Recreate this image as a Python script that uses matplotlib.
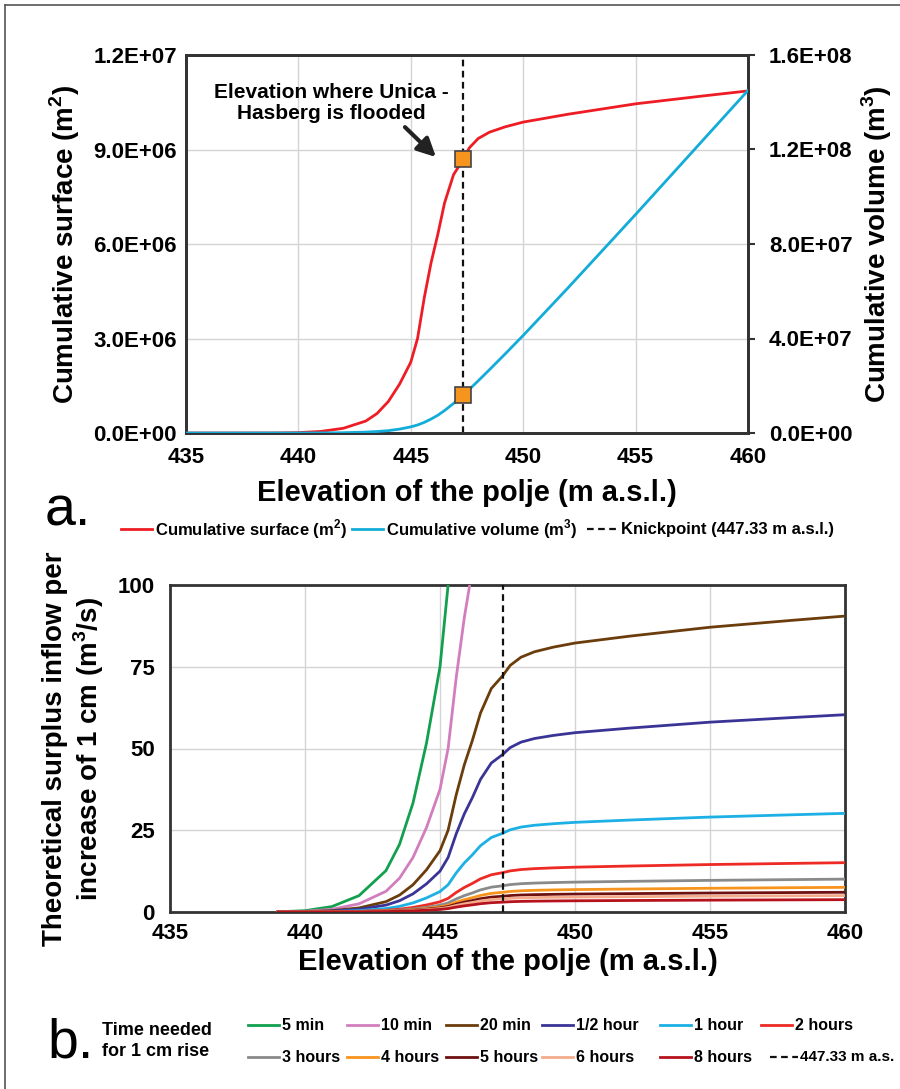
import numpy as np
import matplotlib
matplotlib.use('Agg')
import matplotlib.pyplot as plt
from matplotlib.lines import Line2D

plt.rcParams['font.family'] = ['Liberation Sans', 'DejaVu Sans']
plt.rcParams['font.weight'] = 'bold'
plt.rcParams['axes.labelweight'] = 'bold'

# Data
elevation = [435, 437, 439, 440, 441, 442, 443, 443.5, 444, 444.5, 445, 445.3,
             445.6, 445.9, 446.2, 446.5, 446.9, 447.33, 447.6, 448.0, 448.5,
             449.2, 450, 452, 455, 458, 460]
surface_m2 = [0, 0, 0.002e6, 0.012e6, 0.05e6, 0.15e6, 0.38e6, 0.62e6, 1.0e6,
              1.55e6, 2.25e6, 3.0e6, 4.3e6, 5.4e6, 6.3e6, 7.3e6, 8.2e6, 8.68e6,
              9.05e6, 9.35e6, 9.55e6, 9.72e6, 9.87e6, 10.12e6, 10.45e6, 10.7e6,
              10.86e6]
volume_m3 = [0, 0, 0, 0, 0.03e6, 0.12e6, 0.38e6, 0.62e6, 1.0e6, 1.65e6, 2.6e6,
             3.4e6, 4.5e6, 5.9e6, 7.5e6, 9.5e6, 12.5e6, 16.0e6, 18.4e6, 22.1e6,
             26.8e6, 33.5e6, 41.3e6, 61.5e6, 92.5e6, 124.0e6, 145.0e6]
knickpoint = 447.33
knick_surface = 8.70e6
knick_volume = 16.1e6

# time needed for 1 cm rise
rise_labels = ['5 min', '10 min', '20 min', '1/2 hour', '1 hour', '2 hours',
               '3 hours', '4 hours', '5 hours', '6 hours', '8 hours']
rise_seconds = [300, 600, 1200, 1800, 3600, 7200, 10800, 14400, 18000, 21600, 28800]
rise_colors = ['#12a04e', '#d27ebe', '#6b3d0c', '#3a3496', '#1cb0e4', '#ee2a24',
               '#8a8a8a', '#f7941d', '#6e1010', '#f4ab8c', '#b5121b']

red = '#ee1c24'
blue = '#13acd9'
spine_c = '#333333'
grid_c = '#d4d4d4'
dash = (0, (3, 2))

W, H = 900, 1089
fig = plt.figure(figsize=(9, 10.89), dpi=100)


def fx(x):
    return x / W


def fy(y):
    return 1 - y / H


def legend_item(x, y, color, label, ls='-', length=31, size=12, gap=3):
    fig.add_artist(Line2D([fx(x), fx(x + length)], [fy(y), fy(y)], color=color,
                          lw=2 if ls == '-' else 1.6, ls=ls))
    fig.text(fx(x + length + gap), fy(y), label, fontsize=size, va='center',
             ha='left')


# frame on left and top
fig.add_artist(Line2D([fx(5), fx(5)], [0, fy(5)], color='#555555', lw=1.2))
fig.add_artist(Line2D([fx(5), 1], [fy(5), fy(5)], color='#555555', lw=1.2))

# ---------- panel a ----------
ax = fig.add_axes([fx(186), fy(433), 562 / W, 378 / H])
ax2 = ax.twinx()
ax.plot(elevation, surface_m2, color=red, lw=2, zorder=3)
ax2.plot(elevation, volume_m3, color=blue, lw=2, zorder=3)
ax.axvline(knickpoint, color='#111111', ls=dash, lw=1.6, zorder=2)
ax.plot([knickpoint], [knick_surface], 's', ms=11, color='#f7941d',
        mec='#444444', mew=1.2, zorder=5)
ax2.plot([knickpoint], [knick_volume], 's', ms=11, color='#f7941d',
         mec='#444444', mew=1.2, zorder=5)

ax.set_xlim(435, 460)
ax.set_ylim(0, 1.2e7)
ax2.set_ylim(0, 1.6e8)
ax.set_xticks(range(435, 461, 5))
yt = [0, 3e6, 6e6, 9e6, 1.2e7]
ax.set_yticks(yt)
ax.set_yticklabels(['{:.1E}'.format(v) for v in yt])
yt2 = [0, 4e7, 8e7, 1.2e8, 1.6e8]
ax2.set_yticks(yt2)
ax2.set_yticklabels(['{:.1E}'.format(v) for v in yt2])
ax.grid(True, color=grid_c, lw=1)
ax.set_axisbelow(True)
ax.tick_params(axis='y', length=0, labelsize=16, pad=6.5)
ax.tick_params(axis='x', length=0, labelsize=16, pad=10)
ax2.tick_params(axis='y', length=5, width=1.5, color=spine_c, labelsize=16, pad=10)
for a in (ax, ax2):
    for s in a.spines.values():
        s.set_color(spine_c)
        s.set_linewidth(2)
ax.set_xlabel('Elevation of the polje (m a.s.l.)', fontsize=21, labelpad=8)
ax.set_ylabel('Cumulative surface (m$^\\mathregular{2}$)', fontsize=20, labelpad=8)
ax2.set_ylabel('Cumulative volume (m$^\\mathregular{3}$)', fontsize=20, labelpad=5)

ax.text(441.45, 10.48e6, 'Elevation where Unica -\nHasberg is flooded',
        ha='center', va='center', fontsize=15, linespacing=1.15, zorder=6)
ax.annotate('', xy=(446.12, 8.76e6), xytext=(444.74, 9.71e6),
            arrowprops=dict(arrowstyle='-|>,head_width=0.55,head_length=1.1',
                            color='#222222', lw=3, shrinkA=0, shrinkB=0),
            zorder=6)

fig.text(fx(45), fy(525), 'a.', fontsize=40, fontweight='normal', va='baseline')

legend_item(121, 529, red, 'Cumulative surface (m$^\\mathregular{2}$)')
legend_item(352, 529, blue, 'Cumulative volume (m$^\\mathregular{3}$)')
legend_item(587, 529, '#111111', 'Knickpoint (447.33 m a.s.l.)', ls=dash)

# ---------- panel b ----------
bx = fig.add_axes([fx(170), fy(912), 675 / W, 327 / H])
elev_b = np.array(elevation)
area_b = np.array(surface_m2)
keep = elev_b >= 439
for sec, col in zip(rise_seconds, rise_colors):
    inflow = area_b[keep] * 0.01 / sec
    bx.plot(elev_b[keep], inflow, color=col, lw=2, zorder=3)
bx.axvline(knickpoint, color='#111111', ls=dash, lw=1.6, zorder=4)
bx.set_xlim(435, 460)
bx.set_ylim(0, 100)
bx.set_xticks(range(435, 461, 5))
bx.set_yticks([0, 25, 50, 75, 100])
bx.grid(True, color=grid_c, lw=1)
bx.set_axisbelow(True)
bx.tick_params(axis='y', length=0, labelsize=16, pad=11)
bx.tick_params(axis='x', length=0, labelsize=16, pad=8)
for s in bx.spines.values():
    s.set_color(spine_c)
    s.set_linewidth(2)
bx.set_xlabel('Elevation of the polje (m a.s.l.)', fontsize=21, labelpad=3)
bx.set_ylabel('Theoretical surplus inflow per\nincrease of 1 cm (m$^\\mathregular{3}$/s)',
              fontsize=20, labelpad=8, linespacing=1.15)

fig.text(fx(47), fy(1057), 'b.', fontsize=40, fontweight='normal', va='baseline')
fig.text(fx(102), fy(1041), 'Time needed\nfor 1 cm rise', fontsize=13,
         va='center', linespacing=1.25)

row1_x = [248, 347, 446, 542, 660, 761]
row2_x = [248, 347, 446, 542, 660, 770]
for i in range(6):
    legend_item(row1_x[i], 1025, rise_colors[i], rise_labels[i], size=11.5)
for i in range(5):
    legend_item(row2_x[i], 1057, rise_colors[i + 6], rise_labels[i + 6], size=11.5)
legend_item(row2_x[5], 1057, '#111111', '447.33 m a.s.', ls=dash, size=11,
            length=28, gap=2)

fig.savefig('out.png', dpi=100)
